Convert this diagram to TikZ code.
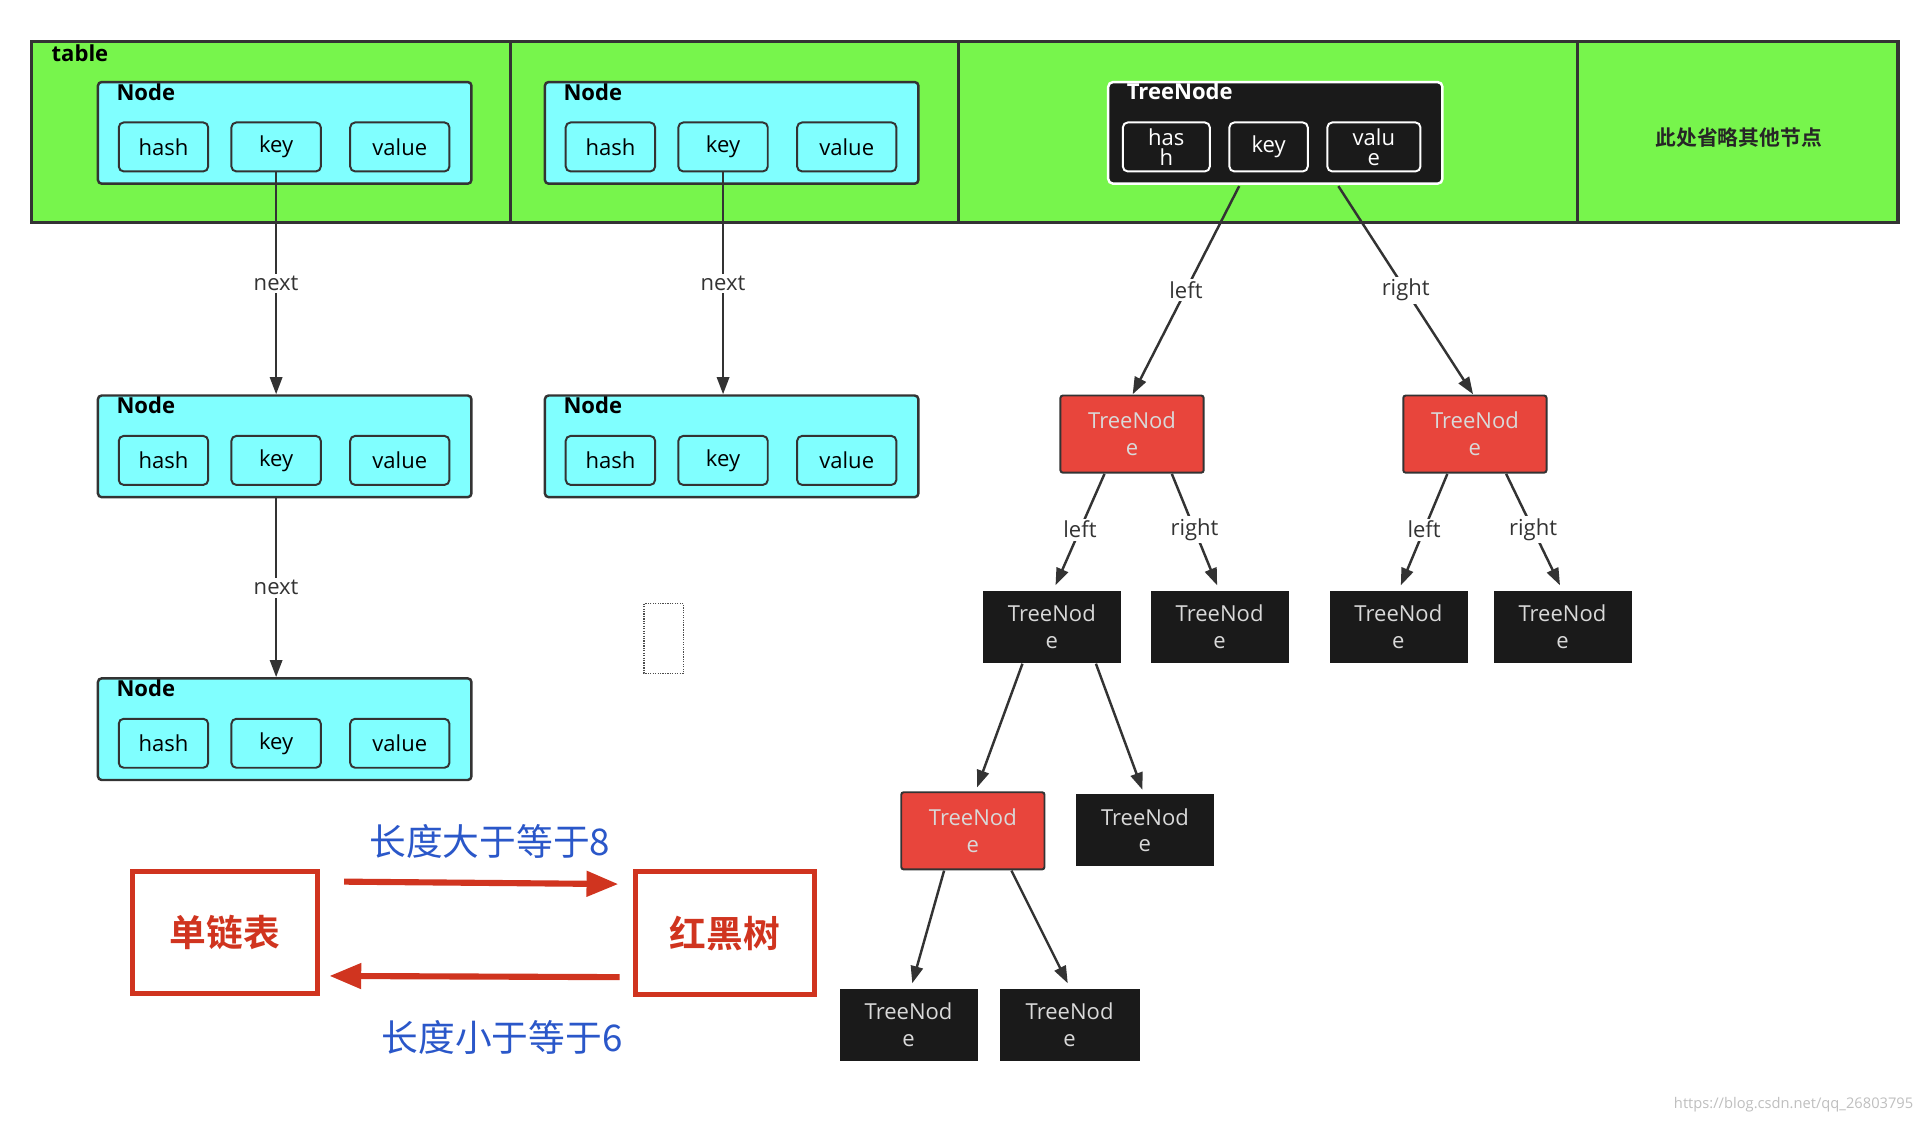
\documentclass[tikz,border=0pt]{standalone}
\usepackage{fontspec}
\setmainfont{Open Sans}
\newfontfamily\cjk{Noto Sans CJK SC}
\newfontfamily\cjkb{Noto Sans CJK SC Bold}
\usetikzlibrary{arrows.meta}
\definecolor{tgreen}{HTML}{77F54C}
\definecolor{tcyan}{HTML}{80FFFF}
\definecolor{tred}{HTML}{E8453C}
\definecolor{tblack}{HTML}{1A1A1A}
\definecolor{bred}{HTML}{D0341F}
\definecolor{tblue}{HTML}{2A57C9}
\newcommand{\mkbox}[7]{\node[#6, minimum width={((#4)-(#2))*1pt}, minimum height={((#5)-(#3))*1pt}] (#1) at ({((#2)+(#4))/2},{((#3)+(#5))/2}) {#7};}
\tikzset{
 base/.style={draw, inner sep=0pt, rounded corners=3pt, font=\fontsize{18}{20}\selectfont},
 cy/.style={base, fill=tcyan, draw=black!80, line width=2pt},
 sub/.style={base, draw=black!80, line width=1.6pt, rounded corners=4pt},
 wsub/.style={base, draw=white, text=white, line width=1.6pt, rounded corners=4pt, align=center, font=\fontsize{18}{16}\selectfont},
 rn/.style={base, fill=tred, draw=black!80, line width=1.6pt, text=white!85!black, align=center, rounded corners=2pt, font=\fontsize{18}{22}\selectfont},
 bn/.style={base, fill=tblack, draw=tblack, text=white!85!black, align=center, rounded corners=0pt, font=\fontsize{18}{22}\selectfont},
 con/.style={draw=black!80, line width=2pt, -{Triangle[length=14pt,width=10pt]}},
 lab/.style={fill=white, inner sep=2pt, font=\fontsize{18}{20}\selectfont, text=black!80},
 ttl/.style={anchor=north west, inner sep=0pt, font=\bfseries\fontsize{18}{20}\selectfont},
}
\begin{document}
\begin{tikzpicture}[x=1pt,y=-1pt]
\useasboundingbox (0,0) rectangle (1568,918);
\fill[white] (0,0) rectangle (1568,918);
\draw[fill=tgreen, draw=black!80, line width=2.5pt] (26,34) rectangle (1550,182);
\foreach \x in {417,783,1288} \draw[black!80, line width=2.5pt] (\x,34) -- (\x,182);
\node[ttl] (tbl) at (42,36) {table};
\node[font=\cjkb\fontsize{17}{19}\selectfont, text=black!85] (omit) at (1420,112) {此处省略其他节点};
% Node boxes
\foreach \nm/\dx/\y in {a/0/67, b/365/67, c/0/323, d/365/323, e/0/554}{
 \mkbox{\nm}{80+\dx}{\y}{385+\dx}{\y+83}{cy}{}
 \node[ttl] (\nm t) at (95+\dx,\y+1) {Node};
 \mkbox{\nm h}{97+\dx}{\y+33}{170+\dx}{\y+73}{sub}{hash}
 \mkbox{\nm k}{189+\dx}{\y+33}{262+\dx}{\y+73}{sub}{key}
 \mkbox{\nm v}{286+\dx}{\y+33}{367+\dx}{\y+73}{sub}{value}
}
\draw[con] (ak.south) -- node[lab]{next} (c.north -| ak);
\draw[con] (bk.south) -- node[lab]{next} (d.north -| bk);
\draw[con] (ck.south |- c.south) -- node[lab, pos=0.5]{next} (e.north -| ck);
% top tree node
\mkbox{T}{905}{67}{1178}{150}{base, fill=tblack, draw=white, line width=2pt, rounded corners=4pt}{}
\node[ttl, text=white] (Tt) at (920,67) {TreeNode};
\mkbox{Th}{917}{100}{988}{140}{wsub}{has\\h}
\mkbox{Tk}{1004}{100}{1068}{140}{wsub}{key}
\mkbox{Tv}{1084}{100}{1160}{140}{wsub}{valu\\e}
\mkbox{R1}{866}{323}{983}{386}{rn}{TreeNod\\e}
\mkbox{R2}{1146}{323}{1263}{386}{rn}{TreeNod\\e}
\mkbox{B1}{803}{483}{915}{541}{bn}{TreeNod\\e}
\mkbox{B2}{940}{483}{1052}{541}{bn}{TreeNod\\e}
\mkbox{B3}{1086}{483}{1198}{541}{bn}{TreeNod\\e}
\mkbox{B4}{1220}{483}{1332}{541}{bn}{TreeNod\\e}
\mkbox{R3}{736}{647}{853}{710}{rn}{TreeNod\\e}
\mkbox{B5}{879}{649}{991}{707}{bn}{TreeNod\\e}
\mkbox{B6}{686}{808}{798}{866}{bn}{TreeNod\\e}
\mkbox{B7}{817}{808}{930}{866}{bn}{TreeNod\\e}
\coordinate (t1) at (1012,152); \coordinate (t2) at (1093,152);
\draw[con] (t1) -- node[lab]{left} (925,322);
\draw[con] (t2) -- node[lab]{right} (1203,322);
\draw[con] (902,387) -- node[lab]{left} (862,478);
\draw[con] (957,387) -- node[lab]{right} (994,478);
\draw[con] (1182,387) -- node[lab]{left} (1144,478);
\draw[con] (1230,387) -- node[lab]{right} (1274,478);
\draw[con] (835,542) -- (798,643);
\draw[con] (895,542) -- (933,645);
\draw[con] (771,711) -- (745,803);
\draw[con] (826,711) -- (872,803);
% dotted rect
\draw[densely dotted, black!70, line width=1pt] (526,493) rectangle (558,550);
% red boxes
\mkbox{L}{108}{712}{259}{811}{draw=bred, line width=4pt, text=bred, font=\cjkb\fontsize{30}{32}\selectfont}{单链表}
\mkbox{RB}{519}{712}{665}{812}{draw=bred, line width=4pt, text=bred, font=\cjkb\fontsize{30}{32}\selectfont}{红黑树}
\draw[bred, line width=5pt, -{Triangle[length=26pt,width=20pt]}] (281,720) -- ([xshift=-12pt]RB.west |- 0,722);
\draw[bred, line width=5pt, -{Triangle[length=26pt,width=20pt]}] (506,798) -- ([xshift=8pt]L.east |- 0,797);
\node[text=tblue, font=\cjk\fontsize{30}{32}\selectfont] (l8) at (400,687) {长度大于等于8};
\node[text=tblue, font=\cjk\fontsize{30}{32}\selectfont] (l6) at (410,847) {长度小于等于6};
\node[text=black!25, font=\fontsize{12}{14}\selectfont, anchor=east] (wm) at (1566,902) {https://blog.csdn.net/qq\_26803795};
\end{tikzpicture}
\end{document}
